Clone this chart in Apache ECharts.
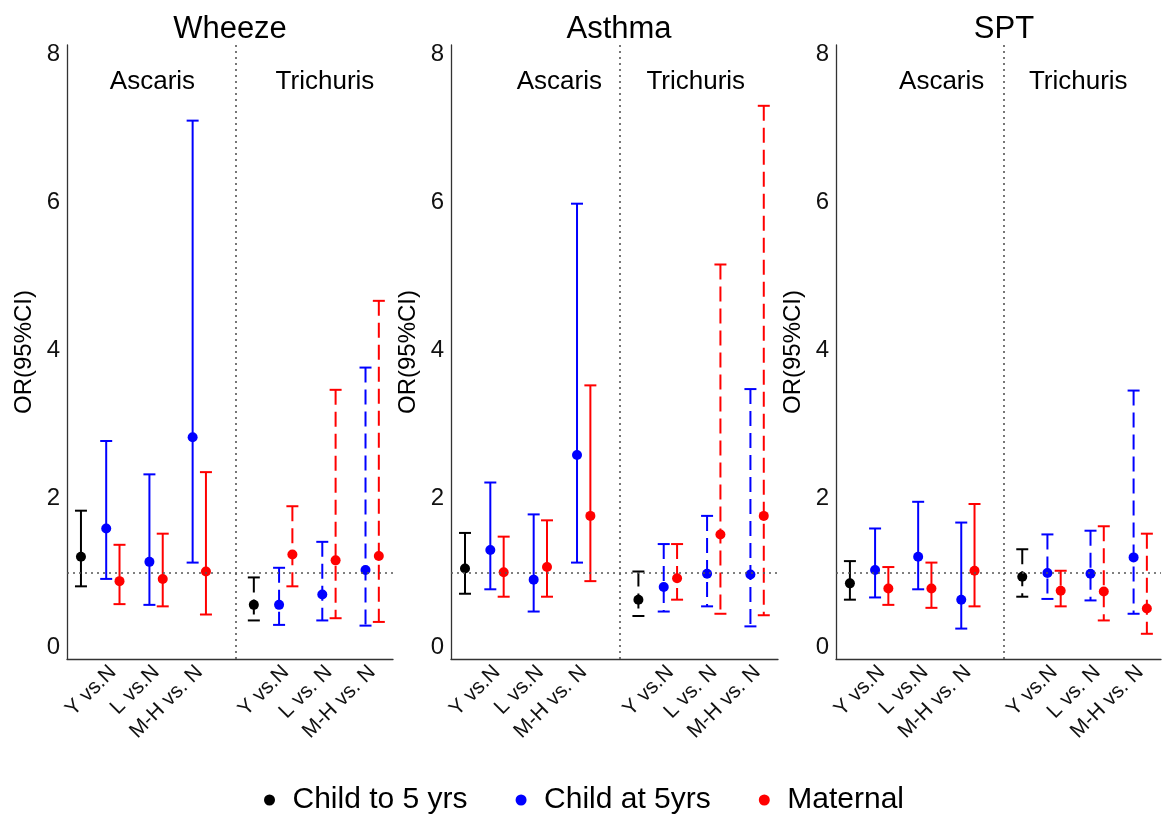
<!DOCTYPE html>
<html>
<head>
<meta charset="utf-8">
<script src="https://cdn.jsdelivr.net/npm/echarts@6/dist/echarts.min.js"></script>
<style>
  html, body { margin: 0; padding: 0; background: #fff; }
  #chart { width: 1165px; height: 817px; }
</style>
</head>
<body>
<div id="chart"></div>
<script>
// ---------------- DATA ----------------
const panelTitles = ['Wheeze', 'Asthma', 'SPT'];
const groupNames = ['Ascaris', 'Trichuris'];
const categories = ['Y vs.N', 'L vs.N', 'M-H vs. N', 'Y vs.N', 'L vs. N', 'M-H vs. N'];
const seriesNames = ['Child to 5 yrs', 'Child at 5yrs', 'Maternal'];
const yTickLabels = [0, 2, 4, 6, 8];
const yAxisTitle = 'OR(95%CI)';
const referenceOR = 1;

// each entry: [OR, lower CI, upper CI] in category order; null = not estimated
const wheezeChildTo5 = [[1.22, 0.82, 1.84], null, null, [0.57, 0.36, 0.94], null, null];
const wheezeChildAt5 = [[1.60, 0.92, 2.78], [1.15, 0.57, 2.33], [2.83, 1.14, 7.10], [0.57, 0.30, 1.07], [0.71, 0.36, 1.42], [1.04, 0.29, 3.77]];
const wheezeMaternal = [[0.89, 0.58, 1.38], [0.92, 0.55, 1.53], [1.02, 0.44, 2.36], [1.25, 0.82, 1.90], [1.17, 0.39, 3.47], [1.23, 0.34, 4.67]];

const asthmaChildTo5 = [[1.06, 0.72, 1.54], null, null, [0.64, 0.42, 1.02], null, null];
const asthmaChildAt5 = [[1.31, 0.78, 2.22], [0.91, 0.48, 1.79], [2.59, 1.14, 5.98], [0.81, 0.48, 1.39], [0.99, 0.55, 1.77], [0.98, 0.28, 3.48]];
const asthmaMaternal = [[1.01, 0.68, 1.49], [1.08, 0.68, 1.71], [1.77, 0.89, 3.53], [0.93, 0.64, 1.39], [1.52, 0.45, 5.16], [1.77, 0.43, 7.30]];

const sptChildTo5 = [[0.86, 0.64, 1.16], null, null, [0.95, 0.68, 1.32], null, null];
const sptChildAt5 = [[1.04, 0.67, 1.60], [1.22, 0.78, 1.96], [0.64, 0.25, 1.68], [1.00, 0.65, 1.52], [0.99, 0.63, 1.57], [1.21, 0.45, 3.46]];
const sptMaternal = [[0.79, 0.57, 1.08], [0.79, 0.53, 1.14], [1.03, 0.55, 1.93], [0.76, 0.55, 1.03], [0.75, 0.36, 1.63], [0.52, 0.18, 1.53]];

const panelData = [
  [wheezeChildTo5, wheezeChildAt5, wheezeMaternal],
  [asthmaChildTo5, asthmaChildAt5, asthmaMaternal],
  [sptChildTo5, sptChildAt5, sptMaternal]
];

// ---------------- LAYOUT / STYLE ----------------
const FONT = '"Liberation Sans", Arial, Helvetica, sans-serif';
const colors = ['#000000', '#0000FF', '#FF0000'];
const catPos = [1, 2, 3, 5, 6, 7];          // axis position of each category
const dodge = [-0.738, -0.154, 0.154];        // horizontal offset per series
const dividerPos = 3.842;
const xMin = -0.061, xMax = 7.482;
const yMin = -0.16, yMax = 8.12;
const labelShift = 0.0;
const grids = [
  { left: 67, width: 326 },
  { left: 451, width: 327 },
  { left: 836, width: 325 }
];
const titleX = [225, 614, 999];
const groupLabelX = [[1.917, 5.908], [2.438, 5.585], [2.392, 5.561]];
const groupLabelY = 7.62;
const CAP = 6;

function renderErrorBar(params, api) {
  const x = api.value(0), lo = api.value(2), hi = api.value(3), dashed = api.value(4);
  const top = api.coord([x, hi]);
  const bot = api.coord([x, lo]);
  const color = api.visual('color');
  const solid = { stroke: color, lineWidth: 2, fill: null };
  const vert = { stroke: color, lineWidth: 2, fill: null, lineDash: dashed ? [15, 7] : null };
  return {
    type: 'group',
    children: [
      { type: 'line', shape: { x1: top[0] - CAP, y1: top[1], x2: top[0] + CAP, y2: top[1] }, style: solid },
      { type: 'line', shape: { x1: top[0], y1: top[1], x2: bot[0], y2: bot[1] }, style: vert },
      { type: 'line', shape: { x1: bot[0] - CAP, y1: bot[1], x2: bot[0] + CAP, y2: bot[1] }, style: solid }
    ]
  };
}

const option = {
  animation: false,
  backgroundColor: '#fff',
  textStyle: { fontFamily: FONT },
  title: panelTitles.map((t, i) => ({
    text: t, left: titleX[i], top: 9, textAlign: 'center',
    textStyle: { fontFamily: FONT, fontSize: 31, fontWeight: 'normal', color: '#000' }
  })),
  legend: {
    data: seriesNames.map(n => ({ name: n, icon: 'circle' })),
    left: 259, top: 780,
    itemWidth: 36, itemHeight: 11, itemGap: 48,
    textStyle: { fontFamily: FONT, fontSize: 30, color: '#000' },
    selectedMode: false
  },
  grid: grids.map(g => ({ left: g.left, width: g.width, top: 45, height: 614 })),
  xAxis: [],
  yAxis: [],
  series: []
};

grids.forEach((g, p) => {
  option.xAxis.push({
    type: 'value', gridIndex: p, min: xMin, max: xMax,
    axisLine: { show: true, onZero: false, lineStyle: { color: '#333', width: 1.3 } },
    axisTick: { show: false },
    splitLine: { show: false },
    axisLabel: {
      customValues: catPos.map(c => c + labelShift),
      rotate: 45, margin: 10, fontFamily: FONT, fontSize: 21, color: '#111',
      formatter: v => {
        let best = 0;
        catPos.forEach((c, k) => { if (Math.abs(c + labelShift - v) < Math.abs(catPos[best] + labelShift - v)) best = k; });
        return categories[best];
      }
    }
  });
  option.yAxis.push({
    type: 'value', gridIndex: p, min: yMin, max: yMax,
    name: yAxisTitle, nameLocation: 'middle', nameGap: 31, nameRotate: 90,
    nameTextStyle: { fontFamily: FONT, fontSize: 24, color: '#000' },
    axisLine: { show: true, onZero: false, lineStyle: { color: '#333', width: 1.3 } },
    axisTick: { show: false },
    splitLine: { show: false },
    axisLabel: { customValues: yTickLabels, margin: 7, fontFamily: FONT, fontSize: 24, color: '#111' }
  });

  // annotation series: group labels + reference lines
  option.series.push({
    type: 'scatter', xAxisIndex: p, yAxisIndex: p, symbolSize: 0, silent: true, z: 1,
    itemStyle: { opacity: 1 },
    data: groupNames.map((n, k) => ({ value: [groupLabelX[p][k], groupLabelY], name: n })),
    label: { show: true, position: 'inside', formatter: d => d.name, fontFamily: FONT, fontSize: 26, color: '#000' },
    markLine: {
      silent: true, symbol: 'none', label: { show: false },
      lineStyle: { color: '#555', type: [2, 4], width: 1.6 },
      data: [{ yAxis: referenceOR }, { xAxis: dividerPos }]
    }
  });

  panelData[p].forEach((arr, s) => {
    const bars = [], pts = [];
    arr.forEach((d, k) => {
      if (!d) return;
      const x = catPos[k] + dodge[s];
      bars.push([x, d[0], d[1], d[2], k >= 3 ? 1 : 0]);
      pts.push([x, d[0]]);
    });
    option.series.push({
      type: 'custom', name: seriesNames[s], xAxisIndex: p, yAxisIndex: p,
      itemStyle: { color: colors[s] }, renderItem: renderErrorBar, data: bars, z: 2,
      encode: { x: 0, y: [1, 2, 3] }, clip: false
    });
    option.series.push({
      type: 'scatter', name: seriesNames[s], xAxisIndex: p, yAxisIndex: p,
      symbol: 'circle', symbolSize: 10, itemStyle: { color: colors[s], opacity: 1 },
      data: pts, z: 3
    });
  });
});

const chart = echarts.init(document.getElementById('chart'), null, { renderer: 'canvas' });
chart.setOption(option);
</script>
</body>
</html>
